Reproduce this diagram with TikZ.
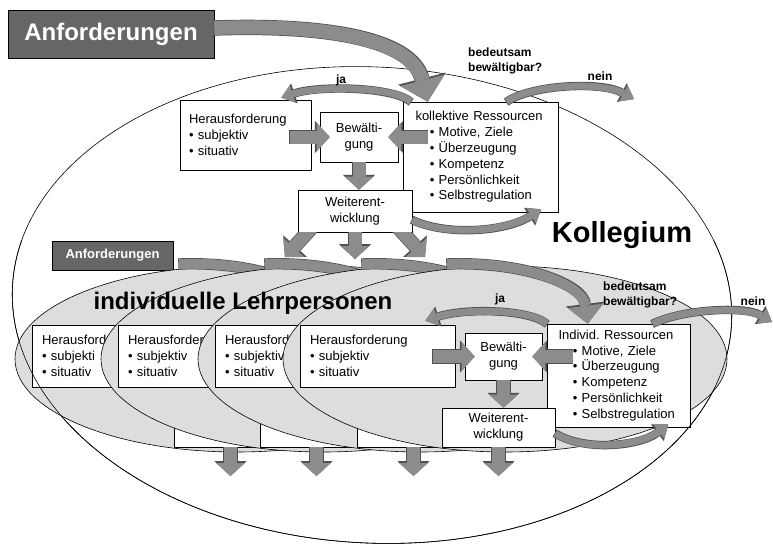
\documentclass[tikz,border=0pt]{standalone}
\usepackage{fontspec}
\setmainfont{Liberation Sans}
\usetikzlibrary{positioning, arrows.meta}

\definecolor{anfgray}{HTML}{666666}
\definecolor{arrowgray}{HTML}{8C8C8C}
\definecolor{arrowedge}{HTML}{505050}
\definecolor{ellgray}{HTML}{DDDDDD}
\newcommand{\bul}{\hspace*{1.1em}\textbullet\ }

\begin{document}
\begin{tikzpicture}[x=1pt, y=-1pt,
    box/.style={draw, fill=white, line width=0.6pt, inner sep=0pt,
        font=\fontsize{13}{15.8}\selectfont},
    listbox/.style={box, align=left},
    midbox/.style={box, align=center},
    anfbox/.style={draw, fill=anfgray, text=white, line width=0.6pt, inner sep=0pt},
    tag/.style={font=\fontsize{12}{15}\selectfont\bfseries, align=left, inner sep=0pt},
    lehrer/.style={fill=ellgray, draw=black, line width=0.6pt},
    blockarr/.style={draw=arrowgray, line width=13pt,
        -{Triangle[width=29pt, length=13pt, line width=0pt]},
        preaction={draw=arrowedge, line width=14.4pt, shorten <=-0.7pt,
            -{Triangle[width=32pt, length=14.8pt, line width=0pt]}}},
    bendarr/.style={draw=arrowgray, line width=7pt,
        -{Triangle[width=18pt, length=12pt, line width=0pt]},
        preaction={draw=arrowedge, line width=8.4pt, shorten <=-0.7pt,
            -{Triangle[width=21pt, length=13.8pt, line width=0pt]}}},
    toparr/.style={draw=arrowgray, line width=10pt,
        -{Triangle[width=36pt, length=18pt, line width=0pt]},
        preaction={draw=arrowedge, line width=11.4pt, shorten <=-0.7pt,
            -{Triangle[width=39pt, length=19.8pt, line width=0pt]}}},
    bigarr/.style={draw=arrowgray, line width=14pt,
        -{Triangle[width=46pt, length=22pt, line width=0pt]},
        preaction={draw=arrowedge, line width=15.4pt, shorten <=-0.7pt,
            -{Triangle[width=49pt, length=23.8pt, line width=0pt]}}}
]
\useasboundingbox (0,0) rectangle (773,546);

% Kollegium
\draw[line width=0.6pt, rotate around={-3:(372,305)}] (372,305) ellipse (360 and 238);

\node[anfbox, minimum width=206pt, minimum height=48pt, font=\fontsize{24}{28}\selectfont\bfseries] (anf1) at (111,34) {Anforderungen};
\node[listbox, text width=130pt, minimum width=155pt, minimum height=110pt] (kol1) at (480.5,157)
    {kollektive Ressourcen\\\bul Motive, Ziele\\\bul Überzeugung\\\bul Kompetenz\\\bul Persönlichkeit\\\bul Selbstregulation};
\node[listbox, text width=113pt, minimum width=131pt, minimum height=70pt] (her1) at (245.5,135)
    {Herausforderung\\\textbullet\ subjektiv\\\textbullet\ situativ};
\node[midbox, minimum width=78pt, minimum height=50pt] (bew1) at (359,137) {Bewälti-\\gung};
\node[midbox, minimum width=114pt, minimum height=42pt] (weit1) at (355,211) {Weiterent-\\wicklung};

\coordinate (out1l) at (285,257);
\coordinate (out1m) at (355,259);
\coordinate (out1r) at (425,257);
\coordinate (nein1) at (634,99);

\draw[blockarr] ([xshift=-30pt]bew1.west) -- ([xshift=10pt]bew1.west);
\draw[blockarr] ([xshift=25pt,yshift=20pt]kol1.west) -- ([xshift=-10pt]bew1.east);
\draw[blockarr] (bew1.south) -- (bew1.south |- weit1.north);
\begin{scope}
    \clip (0,232.3) rectangle (773,300);
    \draw[blockarr] ([xshift=-42pt,yshift=6pt]weit1.south) -- (out1l);
    \draw[blockarr] ([yshift=6pt]weit1.south) -- (out1m);
    \draw[blockarr] ([xshift=42pt,yshift=6pt]weit1.south) -- (out1r);
\end{scope}

\draw[bendarr] ([yshift=-9pt]weit1.east) .. controls (445,236) and (505,232) .. ([xshift=-17pt,yshift=3pt]kol1.south east);
\draw[bendarr] ([xshift=8pt]kol1.north west) .. controls (395,87) and (320,85) .. ([xshift=-30pt,yshift=2pt]her1.north east);
\draw[bendarr] ([xshift=104pt]kol1.north west) .. controls (530,85) and (600,81) .. (nein1);
\draw[bigarr] ([yshift=6pt]anf1.east) .. controls (330,24) and (412,40) .. ([xshift=25pt]kol1.north west);

\node[tag] (ja1) at (341,80) {ja};
\node[tag, anchor=west] (frage1) at (468,60.5) {bedeutsam\\bewältigbar?};
\node[tag] (neinl1) at (600,76) {nein};
\node[font=\fontsize{29}{34}\selectfont\bfseries] (koll) at (622,235) {Kollegium};

% individuelle Lehrpersonen
\node[anfbox, minimum width=121pt, minimum height=29pt, font=\fontsize{13}{15}\selectfont\bfseries] (anf2) at (112.5,255.5) {Anforderungen};

\foreach \o/\k/\hera/\herb in {-268/0/Herausford/subjekti, -182/1/Herausforder/subjektiv, -85/2/Herausford/subjektiv} {
    \begin{scope}[xshift=\o pt]
        \filldraw[lehrer] (505,359) ellipse (222 and 93);
        \coordinate (src\k) at (447,264);
        \coordinate (dst\k) at (588,324);
        \coordinate (down\k) at (498.5,476);
        \node[listbox, text width=135pt, minimum width=155pt, minimum height=62pt] (her\k) at (377.5,356)
            {\hera\\\textbullet\ \herb\\\textbullet\ situativ};
        \node[midbox, minimum width=113pt, minimum height=39pt] (weit\k) at (498.5,427.5) {};
        \draw[toparr] (src\k) .. controls +(75,-3) and +(-5,-40) .. (dst\k);
        \draw[blockarr] (weit\k.south) -- (down\k);
    \end{scope}
}

\filldraw[lehrer] (505,359) ellipse (222 and 93);
\coordinate (src3) at (447,264);
\coordinate (down3) at (498.5,476);
\node[listbox, text width=135pt, minimum width=155pt, minimum height=62pt] (her3) at (377.5,356)
    {Herausforderung\\\textbullet\ subjektiv\\\textbullet\ situativ};
\node[listbox, text width=120pt, minimum width=143pt, minimum height=103pt] (ind3) at (618.5,375.5)
    {Individ.\ Ressourcen\\\bul Motive, Ziele\\\bul Überzeugung\\\bul Kompetenz\\\bul Persönlichkeit\\\bul Selbstregulation};
\node[midbox, minimum width=77pt, minimum height=47pt] (bew3) at (503.5,356.5) {Bewälti-\\gung};
\node[midbox, minimum width=113pt, minimum height=39pt] (weit3) at (498.5,427.5) {Weiterent-\\wicklung};

\draw[blockarr] ([xshift=-32pt]bew3.west) -- ([xshift=10pt]bew3.west);
\draw[blockarr] ([xshift=26pt,yshift=19pt]ind3.west) -- ([xshift=-10pt]bew3.east);
\draw[blockarr] (bew3.south) -- (bew3.south |- weit3.north);
\draw[blockarr] (weit3.south) -- (down3);
\draw[bendarr] ([yshift=-6pt]weit3.east) .. controls (585,452) and (640,446) .. ([xshift=-22pt,yshift=3pt]ind3.south east);
\draw[bendarr] (ind3.north west) .. controls (530,309) and (465,308) .. ([xshift=-30pt,yshift=4pt]her3.north east);
\draw[toparr] (src3) .. controls +(75,-3) and +(-5,-40) .. ([xshift=41pt]ind3.north west);

\node[font=\fontsize{24}{28}\selectfont\bfseries] (lehr) at (243,303) {individuelle Lehrpersonen};

\begin{scope}
    \clip (0,240) rectangle (773,546);
    \draw[line width=0.6pt, rotate around={-3:(372,305)}] (372,305) ellipse (360 and 238);
\end{scope}

\coordinate (nein2) at (772,322);
\draw[bendarr] ([xshift=106pt]ind3.north west) .. controls (682,309) and (745,306) .. (nein2);

\node[tag] (ja2) at (500,299) {ja};
\node[tag, anchor=west] (frage2) at (603,294.5) {bedeutsam\\bewältigbar?};
\node[tag] (neinl2) at (753,301) {nein};
\end{tikzpicture}
\end{document}
